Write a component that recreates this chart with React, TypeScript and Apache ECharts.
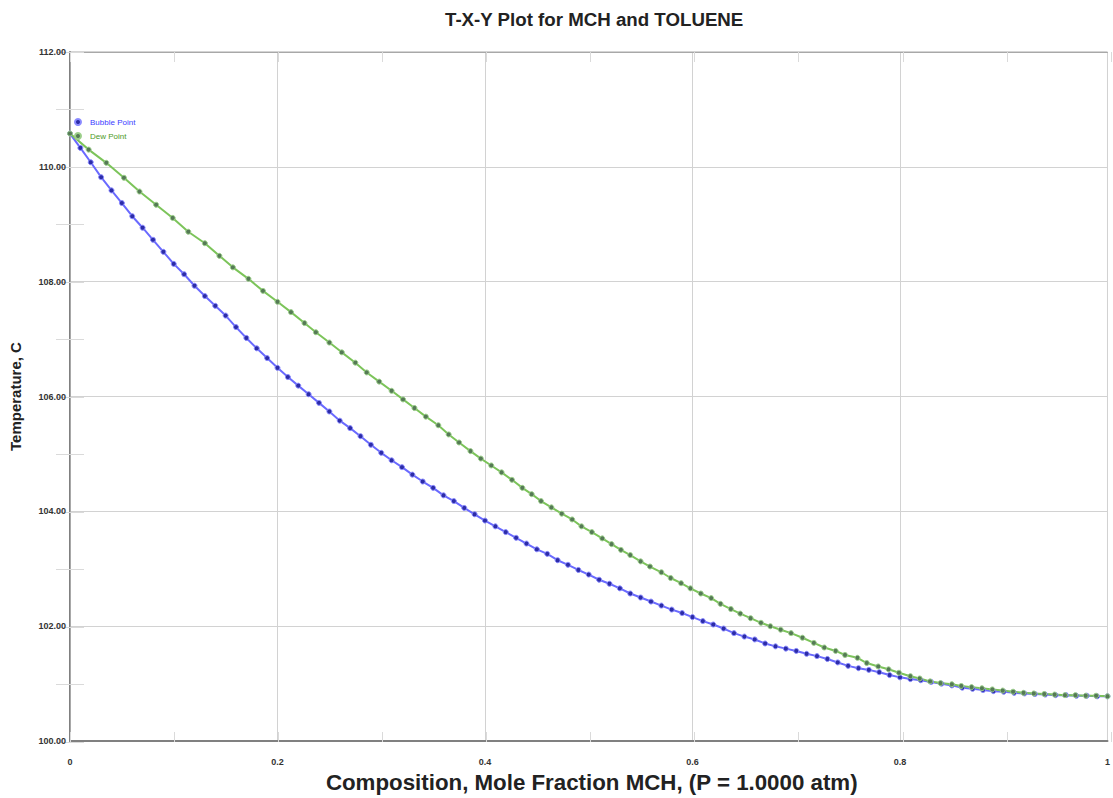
import React, { useEffect, useRef } from "react";
import * as echarts from "echarts";

const chartTitle = "T-X-Y Plot for MCH and TOLUENE";
const xAxisTitle = "Composition, Mole Fraction MCH, (P = 1.0000 atm)";
const yAxisTitle = "Temperature, C";
const seriesNames = ["Bubble Point", "Dew Point"];

// Bubble point curve: liquid mole fraction MCH vs temperature
const bubbleX = [
  0, 0.01, 0.02, 0.03, 0.04, 0.05, 0.06, 0.07, 0.08, 0.09,
  0.1, 0.11, 0.12, 0.13, 0.14, 0.15, 0.16, 0.17, 0.18, 0.19,
  0.2, 0.21, 0.22, 0.23, 0.24, 0.25, 0.26, 0.27, 0.28, 0.29,
  0.3, 0.31, 0.32, 0.33, 0.34, 0.35, 0.36, 0.37, 0.38, 0.39,
  0.4, 0.41, 0.42, 0.43, 0.44, 0.45, 0.46, 0.47, 0.48, 0.49,
  0.5, 0.51, 0.52, 0.53, 0.54, 0.55, 0.56, 0.57, 0.58, 0.59,
  0.6, 0.61, 0.62, 0.63, 0.64, 0.65, 0.66, 0.67, 0.68, 0.69,
  0.7, 0.71, 0.72, 0.73, 0.74, 0.75, 0.76, 0.77, 0.78, 0.79,
  0.8, 0.81, 0.82, 0.83, 0.84, 0.85, 0.86, 0.87, 0.88, 0.89,
  0.9, 0.91, 0.92, 0.93, 0.94, 0.95, 0.96, 0.97, 0.98, 0.99, 1,
];
const bubbleT = [
  110.58, 110.33, 110.08, 109.82, 109.59, 109.37, 109.14, 108.94, 108.73, 108.52,
  108.31, 108.13, 107.93, 107.75, 107.58, 107.41, 107.21, 107.02, 106.84, 106.67,
  106.5, 106.34, 106.19, 106.04, 105.89, 105.74, 105.58, 105.45, 105.31, 105.16,
  105.02, 104.89, 104.77, 104.64, 104.52, 104.41, 104.28, 104.18, 104.06, 103.95,
  103.84, 103.74, 103.64, 103.54, 103.44, 103.34, 103.26, 103.15, 103.07, 102.98,
  102.9, 102.81, 102.74, 102.66, 102.57, 102.5, 102.43, 102.36, 102.29, 102.23,
  102.16, 102.09, 102.03, 101.96, 101.88, 101.82, 101.77, 101.7, 101.65, 101.61,
  101.57, 101.52, 101.48, 101.43, 101.37, 101.31, 101.27, 101.24, 101.2, 101.15,
  101.11, 101.08, 101.06, 101.03, 101.0, 100.97, 100.93, 100.91, 100.89, 100.87,
  100.86, 100.84, 100.83, 100.82, 100.81, 100.8, 100.8, 100.79, 100.79, 100.78, 100.78,
];

// Dew point curve: vapour mole fraction MCH vs temperature
const dewX = [
  0, 0.018, 0.035, 0.052, 0.067, 0.083, 0.099, 0.114, 0.13, 0.144,
  0.157, 0.172, 0.186, 0.2, 0.213, 0.226, 0.237, 0.25, 0.262, 0.275,
  0.286, 0.298, 0.31, 0.321, 0.332, 0.343, 0.355, 0.365, 0.375, 0.386,
  0.396, 0.406, 0.416, 0.426, 0.436, 0.445, 0.454, 0.464, 0.474, 0.484,
  0.493, 0.503, 0.513, 0.522, 0.531, 0.54, 0.55, 0.559, 0.57, 0.579,
  0.589, 0.598, 0.608, 0.618, 0.627, 0.637, 0.646, 0.656, 0.666, 0.675,
  0.685, 0.695, 0.706, 0.717, 0.727, 0.738, 0.747, 0.759, 0.768, 0.779,
  0.789, 0.799, 0.81, 0.819, 0.829, 0.839, 0.85, 0.859, 0.869, 0.879,
  0.889, 0.899, 0.909, 0.919, 0.929, 0.939, 0.949, 0.959, 0.969, 0.979,
  0.989, 1,
];
const dewT = [
  110.58, 110.3, 110.07, 109.81, 109.57, 109.34, 109.11, 108.87, 108.67, 108.45,
  108.25, 108.05, 107.84, 107.65, 107.47, 107.28, 107.12, 106.94, 106.77, 106.59,
  106.42, 106.26, 106.1, 105.95, 105.8, 105.65, 105.5, 105.34, 105.2, 105.05,
  104.92, 104.8, 104.68, 104.55, 104.41, 104.3, 104.18, 104.07, 103.96, 103.86,
  103.74, 103.64, 103.53, 103.43, 103.33, 103.24, 103.13, 103.04, 102.94, 102.84,
  102.75, 102.66, 102.57, 102.49, 102.39, 102.3, 102.22, 102.14, 102.06, 102.0,
  101.94, 101.88, 101.8, 101.71, 101.63, 101.57, 101.5, 101.45, 101.36, 101.3,
  101.25, 101.19, 101.13, 101.09, 101.04, 101.01, 100.99, 100.96, 100.94, 100.92,
  100.9, 100.88, 100.86, 100.84, 100.83, 100.82, 100.81, 100.8, 100.8, 100.79,
  100.79, 100.78,
];

const xMin = 0, xMax = 1, xStep = 0.2, xMinorStep = 0.1;
const yMin = 100, yMax = 112, yStep = 2, yMinorStep = 1;

export default function App() {
  const ref = useRef<HTMLDivElement>(null);
  useEffect(() => {
    if (!ref.current) return;
    const chart = echarts.init(ref.current, undefined, { renderer: "svg" });
    const bubbleData = bubbleX.map((x, i) => [x, bubbleT[i]]);
    const dewData = dewX.map((x, i) => [x, dewT[i]]);
    const labelFont = { fontSize: 9, fontWeight: "bold" as const, color: "#333", fontFamily: "Liberation Sans" };
    const gridBox = { left: 70, top: 52, width: 1041, height: 690 };
    const tickOnly = (len: number) => ({
      axisLine: { show: false },
      axisTick: { show: true, inside: true, length: len, lineStyle: { color: "#dadada", width: 1 } },
      axisLabel: { show: false },
      splitLine: { show: false },
    });
    chart.setOption({
      animation: false,
      backgroundColor: "#ffffff",
      title: {
        text: chartTitle,
        left: 440,
        top: 5,
        textStyle: { fontSize: 18.7, fontWeight: "bold", color: "#222", fontFamily: "Liberation Sans" },
      },
      legend: {
        orient: "vertical",
        left: 69,
        top: 113,
        itemWidth: 6,
        itemHeight: 6,
        itemGap: 6,
        icon: "circle",
        textStyle: { fontSize: 8, padding: [0, 0, 0, 4], fontFamily: "Liberation Sans" },
        data: [
          { name: seriesNames[0], textStyle: { color: "#3c3cff" } },
          { name: seriesNames[1], textStyle: { color: "#4e9a26" } },
        ],
      },
      grid: [
        { ...gridBox, show: true, borderColor: "#a8a8a8", borderWidth: 1 },
        { ...gridBox, show: false },
      ],
      xAxis: [
        {
          type: "value",
          gridIndex: 0,
          min: xMin,
          max: xMax,
          interval: xStep,
          position: "bottom",
          name: xAxisTitle,
          nameLocation: "middle",
          nameGap: 25,
          nameTextStyle: { fontSize: 22.3, fontWeight: "bold", color: "#222", fontFamily: "Liberation Sans", padding: [0, 0, 0, 6] },
          axisLine: { show: true, lineStyle: { color: "#808080", width: 2 } },
          axisTick: { show: false },
          axisLabel: { ...labelFont, margin: 16 },
          splitLine: { show: true, lineStyle: { color: "#d2d2d2", width: 1 } },
        },
        {
          type: "value",
          gridIndex: 0,
          min: xMin,
          max: xMax,
          interval: xStep,
          position: "top",
          axisLine: { show: true, lineStyle: { color: "#a8a8a8", width: 1 } },
          axisTick: { show: false },
          axisLabel: { show: false },
          splitLine: { show: false },
        },
        { type: "value", gridIndex: 1, min: xMin, max: xMax, interval: xMinorStep, position: "bottom", ...tickOnly(10) },
        { type: "value", gridIndex: 1, min: xMin, max: xMax, interval: xMinorStep, position: "top", ...tickOnly(10) },
      ],
      yAxis: [
        {
          type: "value",
          gridIndex: 0,
          min: yMin,
          max: yMax,
          interval: yStep,
          position: "left",
          name: yAxisTitle,
          nameLocation: "middle",
          nameRotate: 90,
          nameGap: 47,
          nameTextStyle: { fontSize: 15, fontWeight: "bold", color: "#222", fontFamily: "Liberation Sans" },
          axisLine: { show: true, lineStyle: { color: "#808080", width: 2 } },
          axisTick: { show: false },
          axisLabel: { ...labelFont, margin: 4, formatter: (v: number) => v.toFixed(2) },
          splitLine: { show: true, lineStyle: { color: "#d2d2d2", width: 1 } },
        },
        {
          type: "value",
          gridIndex: 0,
          min: yMin,
          max: yMax,
          interval: yStep,
          position: "right",
          axisLine: { show: true, lineStyle: { color: "#a8a8a8", width: 1 } },
          axisTick: { show: false },
          axisLabel: { show: false },
          splitLine: { show: false },
        },
        { type: "value", gridIndex: 1, min: yMin, max: yMax, interval: yMinorStep, position: "left", ...tickOnly(14) },
        { type: "value", gridIndex: 1, min: yMin, max: yMax, interval: yMinorStep, position: "right", ...tickOnly(14) },
      ],
      series: [
        {
          name: seriesNames[0],
          type: "line",
          xAxisIndex: 0,
          yAxisIndex: 0,
          data: bubbleData,
          symbol: "circle",
          symbolSize: 5,
          showSymbol: true,
          lineStyle: { color: "#6a6aff", width: 2 },
          itemStyle: { color: "#2c2ca8", borderColor: "#8a8aff", borderWidth: 1 },
        },
        {
          name: seriesNames[1],
          type: "line",
          xAxisIndex: 0,
          yAxisIndex: 0,
          data: dewData,
          symbol: "circle",
          symbolSize: 5,
          showSymbol: true,
          lineStyle: { color: "#7cc45a", width: 2 },
          itemStyle: { color: "#557a55", borderColor: "#9ccf8a", borderWidth: 1 },
        },
      ],
    });
    return () => chart.dispose();
  }, []);
  return (
    <div
      ref={ref}
      style={{ position: "fixed", left: 0, top: 0, width: 1113, height: 798, overflow: "hidden", background: "#fff" }}
    />
  );
}
